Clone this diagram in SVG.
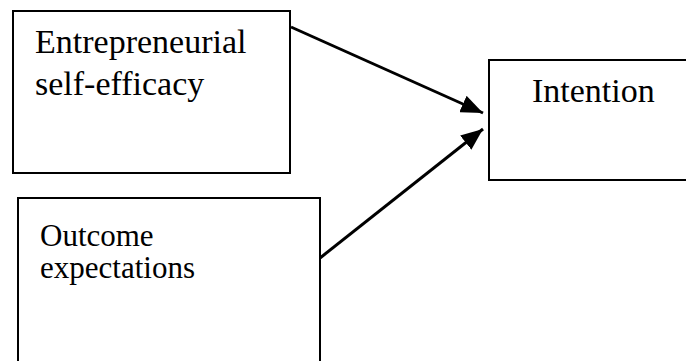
<svg xmlns="http://www.w3.org/2000/svg" width="686" height="361" viewBox="0 0 686 361">
<style>
.box{fill:#fff;stroke:#000;stroke-width:2}
.t{font-family:"Liberation Serif","Times New Roman",serif;fill:#000}
.c{stroke:#000;stroke-width:3;fill:none}
</style>
<defs>
<marker id="ah" markerUnits="userSpaceOnUse" markerWidth="24" markerHeight="18" refX="22" refY="9" orient="auto">
<path d="M0,0 L22,9 L0,18 Z" fill="#000"/>
</marker>
</defs>
<rect width="686" height="361" fill="#fff"/>
<g id="n1">
<rect class="box" x="13" y="11" width="277" height="162"/>
<text class="t" x="35" y="53" font-size="34">Entrepreneurial</text>
<text class="t" x="35" y="95" font-size="34">self-efficacy</text>
</g>
<g id="n2">
<rect class="box" x="489" y="60" width="200" height="120"/>
<text class="t" x="532" y="102" font-size="34">Intention</text>
</g>
<g id="n3">
<rect class="box" x="18" y="198" width="302" height="170"/>
<text class="t" x="40" y="246" font-size="31">Outcome</text>
<text class="t" x="40" y="278" font-size="31">expectations</text>
</g>
<g id="connectors">
<line class="c" x1="291" y1="27" x2="483" y2="113" marker-end="url(#ah)"/>
<line class="c" x1="320" y1="258" x2="483" y2="129" marker-end="url(#ah)"/>
</g>
</svg>
